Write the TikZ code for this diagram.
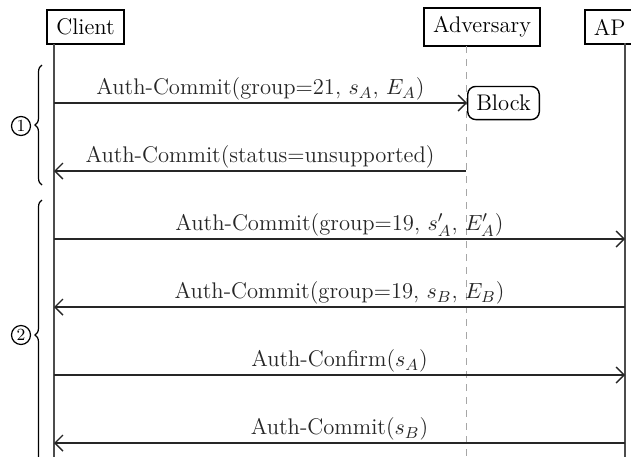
\documentclass[tikz,border=0pt]{standalone}
\usepackage{fontspec}
\usetikzlibrary{arrows.meta,decorations.pathreplacing,positioning}

\begin{document}
\begin{tikzpicture}[x=0.5pt,y=-0.5pt,
  font=\fontsize{11.3}{13}\selectfont,
  actor/.style={draw,line width=0.9pt,inner sep=4.5pt},
  lifeline/.style={line width=0.9pt,black!70},
  msg/.style={line width=0.7pt,black!85,-{Straight Barb[length=4pt,width=8pt]}},
  lbl/.style={above,inner sep=1pt},
  phase/.style={decorate,decoration={brace,amplitude=3.5pt},line width=0.6pt},
  phasenum/.style={circle,draw,line width=0.6pt,inner sep=0pt,minimum size=9.5pt,font=\fontsize{8.5}{9}\selectfont}]
\useasboundingbox (0,0) rectangle (631,456);

% actors
\node[actor] (client) at (85.5,27) {Client};
\node[actor] (adv) at (482,27) {Adversary};
\node[actor,anchor=west] (ap) at (584,27) {AP};

% lifelines
\coordinate (cltop) at (54,44);  \coordinate (clbot) at (54,470);
\coordinate (advtop) at (466,46); \coordinate (advbot) at (466,470);
\coordinate (aptop) at (625,43);  \coordinate (apbot) at (625,470);
\draw[lifeline] (cltop) -- (clbot);
\draw[lifeline] (aptop) -- (apbot);
\draw[gray!70,line width=0.5pt,dash pattern=on 3.5pt off 3pt] (advtop) -- (advbot);

% message rows
\foreach \y [count=\i] in {103,171,239,307,375,443} {
  \coordinate (c\i) at (54,\y);
  \coordinate (a\i) at (466,\y);
  \coordinate (p\i) at (625,\y);
}

\node[draw,rounded corners=4pt,line width=0.7pt,inner sep=4.3pt,anchor=west] (block) at (467,103) {Block};

\draw[msg] (c1) -- (block.west) node[midway,lbl] {Auth-Commit(group=21, $s_A$, $E_A$)};
\draw[msg] (a2) -- (c2) node[midway,lbl] {Auth-Commit(status=unsupported)};
\draw[msg] (c3) -- (p3) node[midway,lbl] {Auth-Commit(group=19, $s'_A$, $E'_A$)};
\draw[msg] (p4) -- (c4) node[midway,lbl] {Auth-Commit(group=19, $s_B$, $E_B$)};
\draw[msg] (c5) -- (p5) node[midway,lbl] {Auth-Confirm($s_A$)};
\draw[msg] (p6) -- (c6) node[midway,lbl] {Auth-Commit($s_B$)};

% phases
\draw[phase] (42,185) -- (42,65);
\draw[phase] (42,470) -- (42,200);
\node[phasenum] (one) at (21,126) {1};
\node[phasenum] (two) at (21,335) {2};
\end{tikzpicture}
\end{document}
